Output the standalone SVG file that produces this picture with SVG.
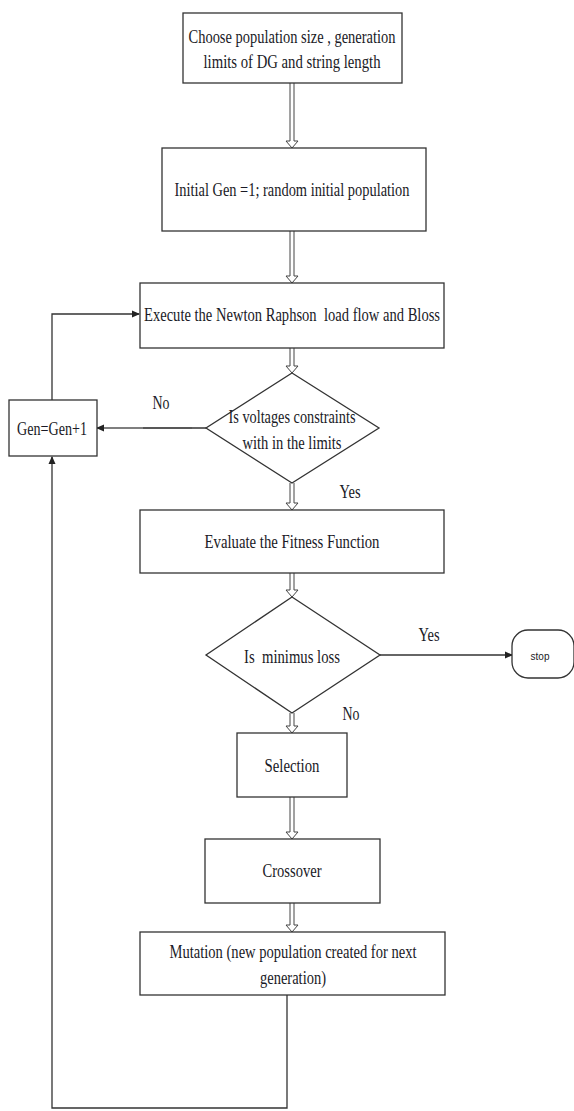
<svg xmlns="http://www.w3.org/2000/svg" width="574" height="1111" viewBox="0 0 574 1111">
<defs>
<marker id="ah" markerWidth="8" markerHeight="8" refX="7" refY="4" orient="auto" markerUnits="userSpaceOnUse">
<path d="M0,0.5 L8,4 L0,7.5 Z" fill="#222"/>
</marker>
</defs>
<style>
.box{fill:#fff;stroke:#333;stroke-width:1.3}
.t{font-family:"Liberation Serif",serif;font-size:18px;fill:#1a1a26;text-anchor:middle;white-space:pre}
.s{font-family:"Liberation Sans",sans-serif;font-size:10px;fill:#1a1a26;text-anchor:middle}
.ln{fill:none;stroke:#333;stroke-width:1.3}
.da{fill:#fff;stroke:#444;stroke-width:1}
</style>
<rect width="574" height="1111" fill="#fff"/>
<g id="connectors">
<path class="da" d="M290,83 V141 H286 L292,148 L298,141 H294 V83"/>
<path class="da" d="M290,231 V276 H286 L292,283 L298,276 H294 V231"/>
<path class="da" d="M290,348 V366 H286 L292,373 L298,366 H294 V348"/>
<path class="da" d="M290,483 V503 H286 L292,510 L298,503 H294 V483"/>
<path class="da" d="M290,573 V590 H286 L292,597 L298,590 H294 V573"/>
<path class="da" d="M290,713 V726 H286 L292,733 L298,726 H294 V713"/>
<path class="da" d="M290,797 V832 H286 L292,839 L298,832 H294 V797"/>
<path class="da" d="M290,903 V925 H286 L292,932 L298,925 H294 V903"/>
<path class="ln" d="M206,428 H143" />
<path class="ln" d="M192,428 H97" marker-end="url(#ah)" style="stroke:#555"/>
<path class="ln" d="M52,400 V314 H139" marker-end="url(#ah)"/>
<path class="ln" d="M380,655 H512" marker-end="url(#ah)"/>
<path class="ln" d="M287,995 V1108 H52 V457" marker-end="url(#ah)"/>
<text class="t" x="161" y="409" textLength="17" lengthAdjust="spacingAndGlyphs">No</text>
<text class="t" x="350" y="498" textLength="21" lengthAdjust="spacingAndGlyphs">Yes</text>
<text class="t" x="429" y="641" textLength="21" lengthAdjust="spacingAndGlyphs">Yes</text>
<text class="t" x="351" y="720" textLength="17" lengthAdjust="spacingAndGlyphs">No</text>
</g>
<g id="n1">
<rect class="box" x="183" y="13" width="219" height="70"/>
<text class="t" x="292" y="43" textLength="207" lengthAdjust="spacingAndGlyphs">Choose population size , generation</text>
<text class="t" x="292" y="68" textLength="177" lengthAdjust="spacingAndGlyphs">limits of DG and string length</text>
</g>
<g id="n2">
<rect class="box" x="162" y="148" width="264" height="83"/>
<text class="t" x="292" y="196" textLength="235" lengthAdjust="spacingAndGlyphs">Initial Gen =1; random initial population</text>
</g>
<g id="n3">
<rect class="box" x="140" y="283" width="304" height="65"/>
<text class="t" x="292" y="321" textLength="296" lengthAdjust="spacingAndGlyphs">Execute the Newton Raphson  load flow and Bloss</text>
</g>
<g id="n4">
<path class="box" d="M292,373 L379,428 L292,483 L206,428 Z"/>
<text class="t" x="292" y="423" textLength="127" lengthAdjust="spacingAndGlyphs">Is voltages constraints</text>
<text class="t" x="292" y="449" textLength="99" lengthAdjust="spacingAndGlyphs">with in the limits</text>
</g>
<g id="n5">
<rect class="box" x="9" y="400" width="88" height="56"/>
<text class="t" x="52" y="435" textLength="70" lengthAdjust="spacingAndGlyphs">Gen=Gen+1</text>
</g>
<g id="n6">
<rect class="box" x="140" y="510" width="304" height="63"/>
<text class="t" x="292" y="548" textLength="175" lengthAdjust="spacingAndGlyphs">Evaluate the Fitness Function</text>
</g>
<g id="n7">
<path class="box" d="M292,597 L380,655 L292,713 L206,655 Z"/>
<text class="t" x="292" y="663" textLength="96" lengthAdjust="spacingAndGlyphs">Is  minimus loss</text>
</g>
<g id="n8">
<rect class="box" x="512" y="630" width="62" height="48" rx="16" ry="16"/>
<text class="s" x="540" y="660">stop</text>
</g>
<g id="n9">
<rect class="box" x="237" y="733" width="110" height="64"/>
<text class="t" x="292" y="772" textLength="55" lengthAdjust="spacingAndGlyphs">Selection</text>
</g>
<g id="n10">
<rect class="box" x="205" y="839" width="175" height="64"/>
<text class="t" x="292" y="877" textLength="59" lengthAdjust="spacingAndGlyphs">Crossover</text>
</g>
<g id="n11">
<rect class="box" x="140" y="932" width="305" height="63"/>
<text class="t" x="293" y="958" textLength="247" lengthAdjust="spacingAndGlyphs">Mutation (new population created for next</text>
<text class="t" x="293" y="984" textLength="66" lengthAdjust="spacingAndGlyphs">generation)</text>
</g>
</svg>
